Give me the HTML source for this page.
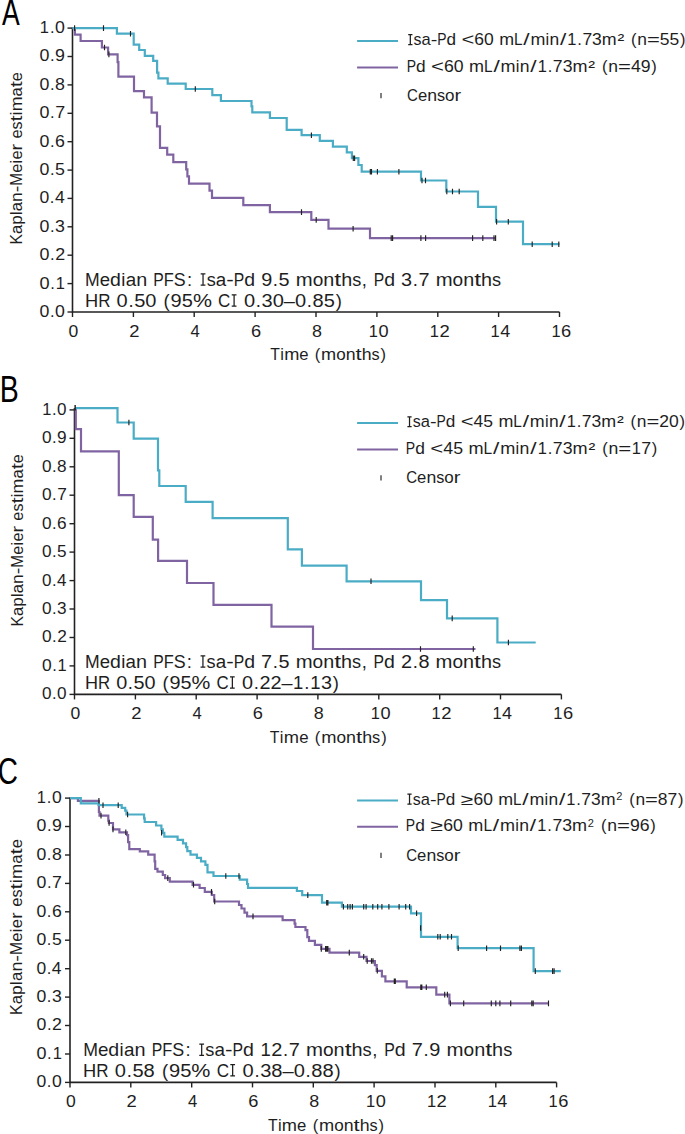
<!DOCTYPE html>
<html><head><meta charset="utf-8"><style>
html,body{margin:0;padding:0;background:#fff;}
body{width:685px;height:1134px;overflow:hidden;}
svg{display:block;font-family:"Liberation Sans", sans-serif;}
</style></head><body>
<svg width="685" height="1134" viewBox="0 0 685 1134" fill="#1e1e1e">
<path d="M72.5,27.5 V312.0 H559.5" fill="none" stroke="#222222" stroke-width="1.6"/>
<path d="M67.5,312.0 H72.5" stroke="#222222" stroke-width="1.4"/>
<g font-size="15.7"><text transform="translate(39.51,316.90) scale(1.130,1)">0</text><text transform="translate(49.91,316.90) scale(1.050,1)">.</text><text transform="translate(55.02,316.90) scale(1.130,1)">0</text></g>
<path d="M67.5,283.6 H72.5" stroke="#222222" stroke-width="1.4"/>
<g font-size="15.7"><text transform="translate(39.49,288.51) scale(1.157,1)">0</text><text transform="translate(50.19,288.51) scale(1.050,1)">.</text><text transform="translate(55.84,288.51) scale(1.050,1)">1</text></g>
<path d="M67.5,255.2 H72.5" stroke="#222222" stroke-width="1.4"/>
<g font-size="15.7"><text transform="translate(39.50,260.12) scale(1.140,1)">0</text><text transform="translate(50.01,260.12) scale(1.050,1)">.</text><text transform="translate(55.15,260.12) scale(1.140,1)">2</text></g>
<path d="M67.5,226.8 H72.5" stroke="#222222" stroke-width="1.4"/>
<g font-size="15.7"><text transform="translate(39.50,231.73) scale(1.134,1)">0</text><text transform="translate(49.95,231.73) scale(1.050,1)">.</text><text transform="translate(55.08,231.73) scale(1.134,1)">3</text></g>
<path d="M67.5,198.4 H72.5" stroke="#222222" stroke-width="1.4"/>
<g font-size="15.7"><text transform="translate(39.51,203.34) scale(1.122,1)">0</text><text transform="translate(49.82,203.34) scale(1.050,1)">.</text><text transform="translate(54.92,203.34) scale(1.122,1)">4</text></g>
<path d="M67.5,170.1 H72.5" stroke="#222222" stroke-width="1.4"/>
<g font-size="15.7"><text transform="translate(39.51,174.95) scale(1.133,1)">0</text><text transform="translate(49.94,174.95) scale(1.050,1)">.</text><text transform="translate(55.06,174.95) scale(1.133,1)">5</text></g>
<path d="M67.5,141.7 H72.5" stroke="#222222" stroke-width="1.4"/>
<g font-size="15.7"><text transform="translate(39.50,146.56) scale(1.134,1)">0</text><text transform="translate(49.95,146.56) scale(1.050,1)">.</text><text transform="translate(55.08,146.56) scale(1.134,1)">6</text></g>
<path d="M67.5,113.3 H72.5" stroke="#222222" stroke-width="1.4"/>
<g font-size="15.7"><text transform="translate(39.50,118.17) scale(1.140,1)">0</text><text transform="translate(50.01,118.17) scale(1.050,1)">.</text><text transform="translate(55.15,118.17) scale(1.140,1)">7</text></g>
<path d="M67.5,84.9 H72.5" stroke="#222222" stroke-width="1.4"/>
<g font-size="15.7"><text transform="translate(39.50,89.78) scale(1.134,1)">0</text><text transform="translate(49.95,89.78) scale(1.050,1)">.</text><text transform="translate(55.07,89.78) scale(1.134,1)">8</text></g>
<path d="M67.5,56.5 H72.5" stroke="#222222" stroke-width="1.4"/>
<g font-size="15.7"><text transform="translate(39.50,61.39) scale(1.137,1)">0</text><text transform="translate(49.98,61.39) scale(1.050,1)">.</text><text transform="translate(55.12,61.39) scale(1.137,1)">9</text></g>
<path d="M67.5,28.1 H72.5" stroke="#222222" stroke-width="1.4"/>
<g font-size="15.7"><text transform="translate(39.84,33.00) scale(1.050,1)">1</text><text transform="translate(49.90,33.00) scale(1.050,1)">.</text><text transform="translate(55.02,33.00) scale(1.131,1)">0</text></g>
<path d="M72.5,312.0 V317.0" stroke="#222222" stroke-width="1.4"/>
<g font-size="15.7"><text transform="translate(68.51,336.60) scale(1.119,1)">0</text></g>
<path d="M133.4,312.0 V317.0" stroke="#222222" stroke-width="1.4"/>
<g font-size="15.7"><text transform="translate(129.15,336.60) scale(1.174,1)">2</text></g>
<path d="M194.2,312.0 V317.0" stroke="#222222" stroke-width="1.4"/>
<g font-size="15.7"><text transform="translate(190.57,336.60) scale(1.062,1)">4</text></g>
<path d="M255.1,312.0 V317.0" stroke="#222222" stroke-width="1.4"/>
<g font-size="15.7"><text transform="translate(250.90,336.60) scale(1.160,1)">6</text></g>
<path d="M316.0,312.0 V317.0" stroke="#222222" stroke-width="1.4"/>
<g font-size="15.7"><text transform="translate(311.92,336.60) scale(1.140,1)">8</text></g>
<path d="M376.9,312.0 V317.0" stroke="#222222" stroke-width="1.4"/>
<g font-size="15.7"><text transform="translate(368.82,336.60) scale(1.050,1)">1</text><text transform="translate(378.46,336.60) scale(1.159,1)">0</text></g>
<path d="M437.8,312.0 V317.0" stroke="#222222" stroke-width="1.4"/>
<g font-size="15.7"><text transform="translate(429.69,336.60) scale(1.050,1)">1</text><text transform="translate(439.41,336.60) scale(1.176,1)">2</text></g>
<path d="M498.6,312.0 V317.0" stroke="#222222" stroke-width="1.4"/>
<g font-size="15.7"><text transform="translate(490.57,336.60) scale(1.050,1)">1</text><text transform="translate(500.15,336.60) scale(1.145,1)">4</text></g>
<path d="M559.5,312.0 V317.0" stroke="#222222" stroke-width="1.4"/>
<g font-size="15.7"><text transform="translate(551.44,336.60) scale(1.050,1)">1</text><text transform="translate(561.12,336.60) scale(1.166,1)">6</text></g>
<g font-size="15.7"><text transform="translate(270.25,360.30) scale(1.003,1)">T</text><text transform="translate(280.17,360.30) scale(1.050,1)">i</text><text transform="translate(284.14,360.30) scale(1.159,1)">m</text><text transform="translate(299.29,360.30) scale(1.062,1)">e</text><text transform="translate(314.84,360.30) scale(1.050,1)">(</text><text transform="translate(321.12,360.30) scale(1.159,1)">m</text><text transform="translate(336.28,360.30) scale(1.087,1)">o</text><text transform="translate(345.76,360.30) scale(1.129,1)">n</text><text transform="translate(355.62,360.30) scale(1.408,1)">t</text><text transform="translate(361.76,360.30) scale(1.129,1)">h</text><text transform="translate(371.62,360.30) scale(1.034,1)">s</text><text transform="translate(380.53,360.30) scale(1.050,1)">)</text></g>
<g font-size="15.7"><text transform="translate(22.30,244.49) rotate(-90) scale(1.000,1)">K</text><text transform="translate(22.30,234.01) rotate(-90) scale(1.051,1)">a</text><text transform="translate(22.30,224.83) rotate(-90) scale(1.090,1)">p</text><text transform="translate(22.30,215.05) rotate(-90) scale(1.050,1)">l</text><text transform="translate(22.30,211.13) rotate(-90) scale(1.051,1)">a</text><text transform="translate(22.30,201.95) rotate(-90) scale(1.107,1)">n</text><text transform="translate(22.30,192.28) rotate(-90) scale(1.259,1)">-</text><text transform="translate(22.30,185.70) rotate(-90) scale(0.985,1)">M</text><text transform="translate(22.30,172.82) rotate(-90) scale(1.041,1)">e</text><text transform="translate(22.30,163.47) rotate(-90) scale(1.050,1)">i</text><text transform="translate(22.30,159.54) rotate(-90) scale(1.041,1)">e</text><text transform="translate(22.30,150.45) rotate(-90) scale(1.247,1)">r</text><text transform="translate(22.30,138.57) rotate(-90) scale(1.041,1)">e</text><text transform="translate(22.30,129.48) rotate(-90) scale(1.014,1)">s</text><text transform="translate(22.30,121.52) rotate(-90) scale(1.380,1)">t</text><text transform="translate(22.30,115.24) rotate(-90) scale(1.050,1)">i</text><text transform="translate(22.30,111.31) rotate(-90) scale(1.136,1)">m</text><text transform="translate(22.30,96.46) rotate(-90) scale(1.051,1)">a</text><text transform="translate(22.30,87.28) rotate(-90) scale(1.380,1)">t</text><text transform="translate(22.30,81.26) rotate(-90) scale(1.041,1)">e</text></g>
<text transform="translate(1.95,25.20) scale(0.727,1)" font-size="36.5" fill="#000">A</text>
<path d="M357.1,40.9 H398" stroke="#4BACC6" stroke-width="2"/>
<path d="M357.1,67.6 H398" stroke="#8064A2" stroke-width="2"/>
<path d="M381,93.0 V98.2" stroke="#7a7a7a" stroke-width="1.9"/>
<g font-size="15.7"><path d="M408.20,34.60H412.44M410.32,34.00V45.10M408.20,44.50H412.44" stroke="#1e1e1e" stroke-width="1.25" fill="none"/><text transform="translate(413.54,45.10) scale(1.016,1)">s</text><text transform="translate(421.52,45.10) scale(1.054,1)">a</text><text transform="translate(430.72,45.10) scale(1.263,1)">-</text><text transform="translate(437.33,45.10) scale(0.882,1)">P</text><text transform="translate(446.56,45.10) scale(1.093,1)">d</text><text transform="translate(461.48,45.10) scale(1.399,1)">&lt;</text><text transform="translate(474.31,45.10) scale(1.115,1)">6</text><text transform="translate(484.05,45.10) scale(1.115,1)">0</text><text transform="translate(499.16,45.10) scale(1.139,1)">m</text><text transform="translate(514.06,45.10) scale(0.977,1)">L</text><text transform="translate(523.35,45.10) scale(1.450,1)">/</text><text transform="translate(530.44,45.10) scale(1.139,1)">m</text><text transform="translate(545.60,45.10) scale(1.050,1)">i</text><text transform="translate(549.54,45.10) scale(1.110,1)">n</text><text transform="translate(559.99,45.10) scale(1.450,1)">/</text><text transform="translate(567.36,45.10) scale(1.050,1)">1</text><text transform="translate(577.31,45.10) scale(1.050,1)">.</text><text transform="translate(582.38,45.10) scale(1.115,1)">7</text><text transform="translate(592.12,45.10) scale(1.115,1)">3</text><text transform="translate(601.85,45.10) scale(1.139,1)">m</text><text transform="translate(617.46,45.10) scale(1.300,1)">²</text><text transform="translate(631.09,45.10) scale(1.050,1)">(</text><text transform="translate(637.31,45.10) scale(1.110,1)">n</text><text transform="translate(647.00,45.10) scale(1.399,1)">=</text><text transform="translate(659.83,45.10) scale(1.115,1)">5</text><text transform="translate(669.57,45.10) scale(1.115,1)">5</text><text transform="translate(680.03,45.10) scale(1.050,1)">)</text></g>
<g font-size="15.7"><text transform="translate(406.66,72.20) scale(0.889,1)">P</text><text transform="translate(415.96,72.20) scale(1.101,1)">d</text><text transform="translate(431.01,72.20) scale(1.411,1)">&lt;</text><text transform="translate(443.94,72.20) scale(1.124,1)">6</text><text transform="translate(453.75,72.20) scale(1.124,1)">0</text><text transform="translate(468.99,72.20) scale(1.148,1)">m</text><text transform="translate(484.00,72.20) scale(0.985,1)">L</text><text transform="translate(493.40,72.20) scale(1.450,1)">/</text><text transform="translate(500.52,72.20) scale(1.148,1)">m</text><text transform="translate(515.82,72.20) scale(1.050,1)">i</text><text transform="translate(519.77,72.20) scale(1.119,1)">n</text><text transform="translate(530.33,72.20) scale(1.450,1)">/</text><text transform="translate(537.77,72.20) scale(1.050,1)">1</text><text transform="translate(547.78,72.20) scale(1.050,1)">.</text><text transform="translate(552.87,72.20) scale(1.124,1)">7</text><text transform="translate(562.69,72.20) scale(1.124,1)">3</text><text transform="translate(572.50,72.20) scale(1.148,1)">m</text><text transform="translate(588.26,72.20) scale(1.300,1)">²</text><text transform="translate(602.00,72.20) scale(1.050,1)">(</text><text transform="translate(608.25,72.20) scale(1.119,1)">n</text><text transform="translate(618.01,72.20) scale(1.411,1)">=</text><text transform="translate(630.95,72.20) scale(1.124,1)">4</text><text transform="translate(640.76,72.20) scale(1.124,1)">9</text><text transform="translate(651.33,72.20) scale(1.050,1)">)</text></g>
<g font-size="15.7"><text transform="translate(407.03,101.00) scale(0.960,1)">C</text><text transform="translate(417.92,101.00) scale(1.060,1)">e</text><text transform="translate(427.18,101.00) scale(1.127,1)">n</text><text transform="translate(437.02,101.00) scale(1.032,1)">s</text><text transform="translate(445.12,101.00) scale(1.084,1)">o</text><text transform="translate(454.59,101.00) scale(1.269,1)">r</text></g>
<g font-size="17.6"><text transform="translate(85.06,285.60) scale(1.001,1)">M</text><text transform="translate(99.73,285.60) scale(1.058,1)">e</text><text transform="translate(110.09,285.60) scale(1.108,1)">d</text><text transform="translate(121.26,285.60) scale(1.050,1)">i</text><text transform="translate(125.70,285.60) scale(1.069,1)">a</text><text transform="translate(136.16,285.60) scale(1.125,1)">n</text><text transform="translate(153.29,285.60) scale(0.894,1)">P</text><text transform="translate(163.78,285.60) scale(0.931,1)">F</text><text transform="translate(173.79,285.60) scale(1.015,1)">S</text><text transform="translate(186.92,285.60) scale(1.050,1)">:</text><path d="M200.67,273.79H205.42M203.04,273.19V285.60M200.67,285.00H205.42" stroke="#1e1e1e" stroke-width="1.25" fill="none"/><text transform="translate(206.71,285.60) scale(1.030,1)">s</text><text transform="translate(215.77,285.60) scale(1.069,1)">a</text><text transform="translate(226.23,285.60) scale(1.280,1)">-</text><text transform="translate(233.73,285.60) scale(0.894,1)">P</text><text transform="translate(244.23,285.60) scale(1.108,1)">d</text><text transform="translate(261.18,285.60) scale(1.130,1)">9</text><text transform="translate(272.84,285.60) scale(1.050,1)">.</text><text transform="translate(278.58,285.60) scale(1.130,1)">5</text><text transform="translate(295.76,285.60) scale(1.154,1)">m</text><text transform="translate(312.68,285.60) scale(1.082,1)">o</text><text transform="translate(323.28,285.60) scale(1.125,1)">n</text><text transform="translate(334.29,285.60) scale(1.402,1)">t</text><text transform="translate(341.14,285.60) scale(1.125,1)">h</text><text transform="translate(352.15,285.60) scale(1.030,1)">s</text><text transform="translate(361.82,285.60) scale(1.050,1)">,</text><text transform="translate(373.67,285.60) scale(0.894,1)">P</text><text transform="translate(384.16,285.60) scale(1.108,1)">d</text><text transform="translate(401.12,285.60) scale(1.130,1)">3</text><text transform="translate(412.78,285.60) scale(1.050,1)">.</text><text transform="translate(418.51,285.60) scale(1.130,1)">7</text><text transform="translate(435.69,285.60) scale(1.154,1)">m</text><text transform="translate(452.62,285.60) scale(1.082,1)">o</text><text transform="translate(463.21,285.60) scale(1.125,1)">n</text><text transform="translate(474.22,285.60) scale(1.402,1)">t</text><text transform="translate(481.08,285.60) scale(1.125,1)">h</text><text transform="translate(492.09,285.60) scale(1.030,1)">s</text></g>
<g font-size="17.6"><text transform="translate(85.00,306.80) scale(1.038,1)">H</text><text transform="translate(98.19,306.80) scale(0.964,1)">R</text><text transform="translate(116.62,306.80) scale(1.139,1)">0</text><text transform="translate(128.39,306.80) scale(1.050,1)">.</text><text transform="translate(134.15,306.80) scale(1.139,1)">5</text><text transform="translate(145.30,306.80) scale(1.139,1)">0</text><text transform="translate(163.53,306.80) scale(1.050,1)">(</text><text transform="translate(170.59,306.80) scale(1.139,1)">9</text><text transform="translate(181.74,306.80) scale(1.139,1)">5</text><text transform="translate(192.90,306.80) scale(1.218,1)">%</text><text transform="translate(218.12,306.80) scale(0.966,1)">C</text><path d="M231.72,294.99H236.47M234.10,294.39V306.80M231.72,306.20H236.47" stroke="#1e1e1e" stroke-width="1.25" fill="none"/><text transform="translate(243.96,306.80) scale(1.139,1)">0</text><text transform="translate(255.73,306.80) scale(1.050,1)">.</text><text transform="translate(261.49,306.80) scale(1.139,1)">3</text><text transform="translate(272.64,306.80) scale(1.139,1)">0</text><text transform="translate(283.79,306.80) scale(1.139,1)">–</text><text transform="translate(294.95,306.80) scale(1.139,1)">0</text><text transform="translate(306.72,306.80) scale(1.050,1)">.</text><text transform="translate(312.48,306.80) scale(1.139,1)">8</text><text transform="translate(323.63,306.80) scale(1.139,1)">5</text><text transform="translate(335.69,306.80) scale(1.050,1)">)</text></g>
<path d="M72.5,28.1 H74.9 V34.7 H80.6 V41 H101.9 V47.5 H108.1 V54.4 H117.6 V62.1 H118.4 V76.7 H134 V91.2 H144 V97.4 H151.6 V112.6 H157 V126.3 H160 V147.8 H167.2 V154.6 H173.3 V162.1 H186.2 V169.3 H187.4 V176.4 H189 V183.6 H209.5 V190.7 H212 V197.9 H243.3 V205.1 H269.9 V212.1 H311.3 V219.9 H328.5 V228.7 H370 V238.1 H495.5" fill="none" stroke="#8064A2" stroke-width="2.2" stroke-linejoin="miter" stroke-linecap="butt"/>
<path d="M72.5,28.1 H116.9 V33.7 H133.7 V44.6 H139.2 V50 H144.8 V55.9 H153.2 V60.9 H157.1 V72.6 H158.4 V78.4 H167.7 V83.6 H185.7 V89 H212.3 V95.1 H220.9 V101 H251.5 V106.4 H252.3 V112.3 H269.9 V118 H286.7 V129.9 H301.6 V135.2 H319.8 V140.8 H332.9 V146.6 H346.8 V152.3 H351.9 V158.2 H358.4 V165 H361.7 V171.7 H421 V180.5 H446.3 V191.5 H478 V206.8 H496 V221.7 H523 V244.2 H559.5" fill="none" stroke="#4BACC6" stroke-width="2.2" stroke-linejoin="miter" stroke-linecap="butt"/>
<path d="M104.5,44.7V50.3 M108.9,51.6V57.2 M301.5,209.3V214.9 M316.2,217.1V222.7 M353.1,225.9V231.5 M391.2,235.3V240.9 M392.6,235.3V240.9 M420.9,235.3V240.9 M425.6,235.3V240.9 M472.6,235.3V240.9 M482.8,235.3V240.9 M494.0,235.3V240.9 M495.6,235.3V240.9" stroke="#222" stroke-width="1.15"/>
<path d="M74.6,25.3V30.9 M103.5,25.3V30.9 M130.5,30.9V36.5 M195.3,86.2V91.8 M311.4,132.4V138.0 M353.3,155.4V161.0 M354.6,155.4V161.0 M370.3,168.9V174.5 M371.5,168.9V174.5 M377.4,168.9V174.5 M398.9,168.9V174.5 M422.0,177.7V183.3 M425.5,177.7V183.3 M446.8,188.7V194.3 M452.5,188.7V194.3 M459.2,188.7V194.3 M496.6,218.9V224.5 M508.3,218.9V224.5 M532.2,241.4V247.0 M552.2,241.4V247.0 M558.8,241.4V247.0" stroke="#222" stroke-width="1.15"/>
<path d="M74.5,408.0 V694.4 H561.4" fill="none" stroke="#222222" stroke-width="1.6"/>
<path d="M69.5,694.4 H74.5" stroke="#222222" stroke-width="1.4"/>
<g font-size="15.7"><text transform="translate(42.03,699.30) scale(1.093,1)">0</text><text transform="translate(52.01,699.30) scale(1.050,1)">.</text><text transform="translate(57.03,699.30) scale(1.093,1)">0</text></g>
<path d="M69.5,665.9 H74.5" stroke="#222222" stroke-width="1.4"/>
<g font-size="15.7"><text transform="translate(42.02,670.85) scale(1.111,1)">0</text><text transform="translate(52.20,670.85) scale(1.050,1)">.</text><text transform="translate(57.54,670.85) scale(1.050,1)">1</text></g>
<path d="M69.5,637.5 H74.5" stroke="#222222" stroke-width="1.4"/>
<g font-size="15.7"><text transform="translate(42.02,642.40) scale(1.102,1)">0</text><text transform="translate(52.11,642.40) scale(1.050,1)">.</text><text transform="translate(57.15,642.40) scale(1.102,1)">2</text></g>
<path d="M69.5,609.0 H74.5" stroke="#222222" stroke-width="1.4"/>
<g font-size="15.7"><text transform="translate(42.03,613.95) scale(1.097,1)">0</text><text transform="translate(52.05,613.95) scale(1.050,1)">.</text><text transform="translate(57.08,613.95) scale(1.097,1)">3</text></g>
<path d="M69.5,580.6 H74.5" stroke="#222222" stroke-width="1.4"/>
<g font-size="15.7"><text transform="translate(42.03,585.50) scale(1.085,1)">0</text><text transform="translate(51.93,585.50) scale(1.050,1)">.</text><text transform="translate(56.93,585.50) scale(1.085,1)">4</text></g>
<path d="M69.5,552.1 H74.5" stroke="#222222" stroke-width="1.4"/>
<g font-size="15.7"><text transform="translate(42.03,557.05) scale(1.095,1)">0</text><text transform="translate(52.04,557.05) scale(1.050,1)">.</text><text transform="translate(57.06,557.05) scale(1.095,1)">5</text></g>
<path d="M69.5,523.7 H74.5" stroke="#222222" stroke-width="1.4"/>
<g font-size="15.7"><text transform="translate(42.03,528.60) scale(1.097,1)">0</text><text transform="translate(52.05,528.60) scale(1.050,1)">.</text><text transform="translate(57.08,528.60) scale(1.097,1)">6</text></g>
<path d="M69.5,495.2 H74.5" stroke="#222222" stroke-width="1.4"/>
<g font-size="15.7"><text transform="translate(42.02,500.15) scale(1.102,1)">0</text><text transform="translate(52.11,500.15) scale(1.050,1)">.</text><text transform="translate(57.15,500.15) scale(1.102,1)">7</text></g>
<path d="M69.5,466.8 H74.5" stroke="#222222" stroke-width="1.4"/>
<g font-size="15.7"><text transform="translate(42.03,471.70) scale(1.096,1)">0</text><text transform="translate(52.05,471.70) scale(1.050,1)">.</text><text transform="translate(57.08,471.70) scale(1.096,1)">8</text></g>
<path d="M69.5,438.3 H74.5" stroke="#222222" stroke-width="1.4"/>
<g font-size="15.7"><text transform="translate(42.03,443.25) scale(1.099,1)">0</text><text transform="translate(52.08,443.25) scale(1.050,1)">.</text><text transform="translate(57.12,443.25) scale(1.099,1)">9</text></g>
<path d="M69.5,409.9 H74.5" stroke="#222222" stroke-width="1.4"/>
<g font-size="15.7"><text transform="translate(42.34,414.80) scale(1.050,1)">1</text><text transform="translate(52.09,414.80) scale(1.050,1)">.</text><text transform="translate(57.09,414.80) scale(1.085,1)">0</text></g>
<path d="M74.5,694.4 V699.4" stroke="#222222" stroke-width="1.4"/>
<g font-size="15.7"><text transform="translate(70.51,718.80) scale(1.119,1)">0</text></g>
<path d="M135.4,694.4 V699.4" stroke="#222222" stroke-width="1.4"/>
<g font-size="15.7"><text transform="translate(131.14,718.80) scale(1.174,1)">2</text></g>
<path d="M196.2,694.4 V699.4" stroke="#222222" stroke-width="1.4"/>
<g font-size="15.7"><text transform="translate(192.54,718.80) scale(1.062,1)">4</text></g>
<path d="M257.1,694.4 V699.4" stroke="#222222" stroke-width="1.4"/>
<g font-size="15.7"><text transform="translate(252.86,718.80) scale(1.160,1)">6</text></g>
<path d="M317.9,694.4 V699.4" stroke="#222222" stroke-width="1.4"/>
<g font-size="15.7"><text transform="translate(313.87,718.80) scale(1.140,1)">8</text></g>
<path d="M378.8,694.4 V699.4" stroke="#222222" stroke-width="1.4"/>
<g font-size="15.7"><text transform="translate(370.76,718.80) scale(1.050,1)">1</text><text transform="translate(380.40,718.80) scale(1.159,1)">0</text></g>
<path d="M439.7,694.4 V699.4" stroke="#222222" stroke-width="1.4"/>
<g font-size="15.7"><text transform="translate(431.62,718.80) scale(1.050,1)">1</text><text transform="translate(441.34,718.80) scale(1.176,1)">2</text></g>
<path d="M500.5,694.4 V699.4" stroke="#222222" stroke-width="1.4"/>
<g font-size="15.7"><text transform="translate(492.48,718.80) scale(1.050,1)">1</text><text transform="translate(502.07,718.80) scale(1.145,1)">4</text></g>
<path d="M561.4,694.4 V699.4" stroke="#222222" stroke-width="1.4"/>
<g font-size="15.7"><text transform="translate(553.34,718.80) scale(1.050,1)">1</text><text transform="translate(563.02,718.80) scale(1.166,1)">6</text></g>
<g font-size="15.7"><text transform="translate(269.84,742.80) scale(1.012,1)">T</text><text transform="translate(279.87,742.80) scale(1.050,1)">i</text><text transform="translate(283.86,742.80) scale(1.169,1)">m</text><text transform="translate(299.15,742.80) scale(1.072,1)">e</text><text transform="translate(314.86,742.80) scale(1.050,1)">(</text><text transform="translate(321.17,742.80) scale(1.169,1)">m</text><text transform="translate(336.46,742.80) scale(1.096,1)">o</text><text transform="translate(346.03,742.80) scale(1.139,1)">n</text><text transform="translate(355.98,742.80) scale(1.420,1)">t</text><text transform="translate(362.17,742.80) scale(1.139,1)">h</text><text transform="translate(372.12,742.80) scale(1.043,1)">s</text><text transform="translate(381.13,742.80) scale(1.050,1)">)</text></g>
<g font-size="15.7"><text transform="translate(22.90,626.49) rotate(-90) scale(1.000,1)">K</text><text transform="translate(22.90,616.02) rotate(-90) scale(1.051,1)">a</text><text transform="translate(22.90,606.84) rotate(-90) scale(1.089,1)">p</text><text transform="translate(22.90,597.07) rotate(-90) scale(1.050,1)">l</text><text transform="translate(22.90,593.15) rotate(-90) scale(1.051,1)">a</text><text transform="translate(22.90,583.97) rotate(-90) scale(1.106,1)">n</text><text transform="translate(22.90,574.31) rotate(-90) scale(1.259,1)">-</text><text transform="translate(22.90,567.73) rotate(-90) scale(0.984,1)">M</text><text transform="translate(22.90,554.86) rotate(-90) scale(1.040,1)">e</text><text transform="translate(22.90,545.52) rotate(-90) scale(1.050,1)">i</text><text transform="translate(22.90,541.59) rotate(-90) scale(1.040,1)">e</text><text transform="translate(22.90,532.51) rotate(-90) scale(1.246,1)">r</text><text transform="translate(22.90,520.63) rotate(-90) scale(1.040,1)">e</text><text transform="translate(22.90,511.54) rotate(-90) scale(1.013,1)">s</text><text transform="translate(22.90,503.59) rotate(-90) scale(1.379,1)">t</text><text transform="translate(22.90,497.32) rotate(-90) scale(1.050,1)">i</text><text transform="translate(22.90,493.39) rotate(-90) scale(1.135,1)">m</text><text transform="translate(22.90,478.55) rotate(-90) scale(1.051,1)">a</text><text transform="translate(22.90,469.37) rotate(-90) scale(1.379,1)">t</text><text transform="translate(22.90,463.36) rotate(-90) scale(1.040,1)">e</text></g>
<text transform="translate(-0.14,401.70) scale(0.782,1)" font-size="36.5" fill="#000">B</text>
<path d="M357.1,423.09999999999997 H398" stroke="#4BACC6" stroke-width="2"/>
<path d="M357.1,449.4 H398" stroke="#8064A2" stroke-width="2"/>
<path d="M381,475.3 V480.5" stroke="#7a7a7a" stroke-width="1.9"/>
<g font-size="15.7"><path d="M407.40,416.80H411.64M409.52,416.20V427.30M407.40,426.70H411.64" stroke="#1e1e1e" stroke-width="1.25" fill="none"/><text transform="translate(412.75,427.30) scale(1.017,1)">s</text><text transform="translate(420.73,427.30) scale(1.055,1)">a</text><text transform="translate(429.95,427.30) scale(1.264,1)">-</text><text transform="translate(436.56,427.30) scale(0.883,1)">P</text><text transform="translate(445.80,427.30) scale(1.094,1)">d</text><text transform="translate(460.74,427.30) scale(1.401,1)">&lt;</text><text transform="translate(473.58,427.30) scale(1.116,1)">4</text><text transform="translate(483.33,427.30) scale(1.116,1)">5</text><text transform="translate(498.46,427.30) scale(1.140,1)">m</text><text transform="translate(513.37,427.30) scale(0.978,1)">L</text><text transform="translate(522.68,427.30) scale(1.450,1)">/</text><text transform="translate(529.77,427.30) scale(1.140,1)">m</text><text transform="translate(544.95,427.30) scale(1.050,1)">i</text><text transform="translate(548.89,427.30) scale(1.111,1)">n</text><text transform="translate(559.36,427.30) scale(1.450,1)">/</text><text transform="translate(566.74,427.30) scale(1.050,1)">1</text><text transform="translate(576.69,427.30) scale(1.050,1)">.</text><text transform="translate(581.77,427.30) scale(1.116,1)">7</text><text transform="translate(591.52,427.30) scale(1.116,1)">3</text><text transform="translate(601.26,427.30) scale(1.140,1)">m</text><text transform="translate(616.89,427.30) scale(1.300,1)">²</text><text transform="translate(630.54,427.30) scale(1.050,1)">(</text><text transform="translate(636.76,427.30) scale(1.111,1)">n</text><text transform="translate(646.46,427.30) scale(1.401,1)">=</text><text transform="translate(659.31,427.30) scale(1.116,1)">2</text><text transform="translate(669.05,427.30) scale(1.116,1)">0</text><text transform="translate(679.53,427.30) scale(1.050,1)">)</text></g>
<g font-size="15.7"><text transform="translate(405.85,454.00) scale(0.894,1)">P</text><text transform="translate(415.21,454.00) scale(1.107,1)">d</text><text transform="translate(430.33,454.00) scale(1.418,1)">&lt;</text><text transform="translate(443.33,454.00) scale(1.130,1)">4</text><text transform="translate(453.19,454.00) scale(1.130,1)">5</text><text transform="translate(468.51,454.00) scale(1.154,1)">m</text><text transform="translate(483.61,454.00) scale(0.990,1)">L</text><text transform="translate(493.07,454.00) scale(1.450,1)">/</text><text transform="translate(500.21,454.00) scale(1.154,1)">m</text><text transform="translate(515.60,454.00) scale(1.050,1)">i</text><text transform="translate(519.56,454.00) scale(1.125,1)">n</text><text transform="translate(530.19,454.00) scale(1.450,1)">/</text><text transform="translate(537.68,454.00) scale(1.050,1)">1</text><text transform="translate(547.73,454.00) scale(1.050,1)">.</text><text transform="translate(552.84,454.00) scale(1.130,1)">7</text><text transform="translate(562.71,454.00) scale(1.130,1)">3</text><text transform="translate(572.57,454.00) scale(1.154,1)">m</text><text transform="translate(588.43,454.00) scale(1.300,1)">²</text><text transform="translate(602.24,454.00) scale(1.050,1)">(</text><text transform="translate(608.50,454.00) scale(1.125,1)">n</text><text transform="translate(618.32,454.00) scale(1.418,1)">=</text><text transform="translate(631.67,454.00) scale(1.050,1)">1</text><text transform="translate(641.19,454.00) scale(1.130,1)">7</text><text transform="translate(651.83,454.00) scale(1.050,1)">)</text></g>
<g font-size="15.7"><text transform="translate(406.23,483.30) scale(0.960,1)">C</text><text transform="translate(417.12,483.30) scale(1.060,1)">e</text><text transform="translate(426.38,483.30) scale(1.127,1)">n</text><text transform="translate(436.22,483.30) scale(1.032,1)">s</text><text transform="translate(444.32,483.30) scale(1.084,1)">o</text><text transform="translate(453.79,483.30) scale(1.269,1)">r</text></g>
<g font-size="17.6"><text transform="translate(84.96,667.60) scale(1.001,1)">M</text><text transform="translate(99.63,667.60) scale(1.058,1)">e</text><text transform="translate(109.99,667.60) scale(1.108,1)">d</text><text transform="translate(121.16,667.60) scale(1.050,1)">i</text><text transform="translate(125.60,667.60) scale(1.069,1)">a</text><text transform="translate(136.06,667.60) scale(1.125,1)">n</text><text transform="translate(153.19,667.60) scale(0.894,1)">P</text><text transform="translate(163.68,667.60) scale(0.931,1)">F</text><text transform="translate(173.69,667.60) scale(1.015,1)">S</text><text transform="translate(186.82,667.60) scale(1.050,1)">:</text><path d="M200.57,655.79H205.32M202.94,655.19V667.60M200.57,667.00H205.32" stroke="#1e1e1e" stroke-width="1.25" fill="none"/><text transform="translate(206.61,667.60) scale(1.030,1)">s</text><text transform="translate(215.67,667.60) scale(1.069,1)">a</text><text transform="translate(226.13,667.60) scale(1.280,1)">-</text><text transform="translate(233.63,667.60) scale(0.894,1)">P</text><text transform="translate(244.13,667.60) scale(1.108,1)">d</text><text transform="translate(261.08,667.60) scale(1.130,1)">7</text><text transform="translate(272.74,667.60) scale(1.050,1)">.</text><text transform="translate(278.48,667.60) scale(1.130,1)">5</text><text transform="translate(295.66,667.60) scale(1.154,1)">m</text><text transform="translate(312.58,667.60) scale(1.082,1)">o</text><text transform="translate(323.18,667.60) scale(1.125,1)">n</text><text transform="translate(334.19,667.60) scale(1.402,1)">t</text><text transform="translate(341.04,667.60) scale(1.125,1)">h</text><text transform="translate(352.05,667.60) scale(1.030,1)">s</text><text transform="translate(361.72,667.60) scale(1.050,1)">,</text><text transform="translate(373.57,667.60) scale(0.894,1)">P</text><text transform="translate(384.06,667.60) scale(1.108,1)">d</text><text transform="translate(401.02,667.60) scale(1.130,1)">2</text><text transform="translate(412.68,667.60) scale(1.050,1)">.</text><text transform="translate(418.41,667.60) scale(1.130,1)">8</text><text transform="translate(435.59,667.60) scale(1.154,1)">m</text><text transform="translate(452.52,667.60) scale(1.082,1)">o</text><text transform="translate(463.11,667.60) scale(1.125,1)">n</text><text transform="translate(474.12,667.60) scale(1.402,1)">t</text><text transform="translate(480.98,667.60) scale(1.125,1)">h</text><text transform="translate(491.99,667.60) scale(1.030,1)">s</text></g>
<g font-size="17.6"><text transform="translate(84.92,688.80) scale(1.026,1)">H</text><text transform="translate(97.96,688.80) scale(0.954,1)">R</text><text transform="translate(116.18,688.80) scale(1.127,1)">0</text><text transform="translate(127.80,688.80) scale(1.050,1)">.</text><text transform="translate(133.52,688.80) scale(1.127,1)">5</text><text transform="translate(144.55,688.80) scale(1.127,1)">0</text><text transform="translate(162.54,688.80) scale(1.050,1)">(</text><text transform="translate(169.56,688.80) scale(1.127,1)">9</text><text transform="translate(180.59,688.80) scale(1.127,1)">5</text><text transform="translate(191.61,688.80) scale(1.204,1)">%</text><text transform="translate(216.56,688.80) scale(0.956,1)">C</text><path d="M229.98,676.99H234.73M232.36,676.39V688.80M229.98,688.20H234.73" stroke="#1e1e1e" stroke-width="1.25" fill="none"/><text transform="translate(242.11,688.80) scale(1.127,1)">0</text><text transform="translate(253.72,688.80) scale(1.050,1)">.</text><text transform="translate(259.45,688.80) scale(1.127,1)">2</text><text transform="translate(270.48,688.80) scale(1.127,1)">2</text><text transform="translate(281.50,688.80) scale(1.127,1)">–</text><text transform="translate(292.91,688.80) scale(1.050,1)">1</text><text transform="translate(304.15,688.80) scale(1.050,1)">.</text><text transform="translate(310.25,688.80) scale(1.050,1)">1</text><text transform="translate(320.90,688.80) scale(1.127,1)">3</text><text transform="translate(332.79,688.80) scale(1.050,1)">)</text></g>
<path d="M75.8,408.1 V429.1 H81 V451.4 H118.8 V495.2 H133.7 V516.8 H152.8 V539.6 H158.1 V560.9 H187 V583 H213.5 V604.9 H271.5 V626.7 H313 V649 H475.5" fill="none" stroke="#8064A2" stroke-width="2.2" stroke-linejoin="miter" stroke-linecap="butt"/>
<path d="M75,408.2 H117.5 V422.5 H133.7 V438.6 H158 V470.4 H159.3 V486 H185.7 V501.8 H212.6 V518.1 H287.8 V549.4 H301.9 V565.7 H346.6 V581.3 H421 V600.1 H447 V618.4 H497.4 V642.5 H535.7" fill="none" stroke="#4BACC6" stroke-width="2.2" stroke-linejoin="miter" stroke-linecap="butt"/>
<path d="M420.5,646.2V651.8 M473.3,646.2V651.8" stroke="#222" stroke-width="1.15"/>
<path d="M75.0,404.9V410.5 M75.3,404.9V410.5 M128.9,419.7V425.3 M371.0,578.5V584.1 M452.2,615.6V621.2 M508.4,639.7V645.3" stroke="#222" stroke-width="1.15"/>
<path d="M70.0,797.5 V1082.4 H556.6" fill="none" stroke="#222222" stroke-width="1.6"/>
<path d="M65.0,1082.4 H70.0" stroke="#222222" stroke-width="1.4"/>
<g font-size="15.7"><text transform="translate(36.51,1087.30) scale(1.121,1)">0</text><text transform="translate(46.81,1087.30) scale(1.050,1)">.</text><text transform="translate(51.90,1087.30) scale(1.121,1)">0</text></g>
<path d="M65.0,1054.0 H70.0" stroke="#222222" stroke-width="1.4"/>
<g font-size="15.7"><text transform="translate(36.50,1058.87) scale(1.145,1)">0</text><text transform="translate(47.07,1058.87) scale(1.050,1)">.</text><text transform="translate(52.64,1058.87) scale(1.050,1)">1</text></g>
<path d="M65.0,1025.5 H70.0" stroke="#222222" stroke-width="1.4"/>
<g font-size="15.7"><text transform="translate(36.51,1030.44) scale(1.130,1)">0</text><text transform="translate(46.91,1030.44) scale(1.050,1)">.</text><text transform="translate(52.02,1030.44) scale(1.130,1)">2</text></g>
<path d="M65.0,997.1 H70.0" stroke="#222222" stroke-width="1.4"/>
<g font-size="15.7"><text transform="translate(36.51,1002.01) scale(1.125,1)">0</text><text transform="translate(46.85,1002.01) scale(1.050,1)">.</text><text transform="translate(51.95,1002.01) scale(1.125,1)">3</text></g>
<path d="M65.0,968.7 H70.0" stroke="#222222" stroke-width="1.4"/>
<g font-size="15.7"><text transform="translate(36.52,973.58) scale(1.113,1)">0</text><text transform="translate(46.72,973.58) scale(1.050,1)">.</text><text transform="translate(51.79,973.58) scale(1.113,1)">4</text></g>
<path d="M65.0,940.2 H70.0" stroke="#222222" stroke-width="1.4"/>
<g font-size="15.7"><text transform="translate(36.51,945.15) scale(1.123,1)">0</text><text transform="translate(46.84,945.15) scale(1.050,1)">.</text><text transform="translate(51.93,945.15) scale(1.123,1)">5</text></g>
<path d="M65.0,911.8 H70.0" stroke="#222222" stroke-width="1.4"/>
<g font-size="15.7"><text transform="translate(36.51,916.72) scale(1.125,1)">0</text><text transform="translate(46.85,916.72) scale(1.050,1)">.</text><text transform="translate(51.95,916.72) scale(1.125,1)">6</text></g>
<path d="M65.0,883.4 H70.0" stroke="#222222" stroke-width="1.4"/>
<g font-size="15.7"><text transform="translate(36.51,888.29) scale(1.130,1)">0</text><text transform="translate(46.91,888.29) scale(1.050,1)">.</text><text transform="translate(52.02,888.29) scale(1.130,1)">7</text></g>
<path d="M65.0,855.0 H70.0" stroke="#222222" stroke-width="1.4"/>
<g font-size="15.7"><text transform="translate(36.51,859.86) scale(1.125,1)">0</text><text transform="translate(46.85,859.86) scale(1.050,1)">.</text><text transform="translate(51.95,859.86) scale(1.125,1)">8</text></g>
<path d="M65.0,826.5 H70.0" stroke="#222222" stroke-width="1.4"/>
<g font-size="15.7"><text transform="translate(36.51,831.43) scale(1.128,1)">0</text><text transform="translate(46.88,831.43) scale(1.050,1)">.</text><text transform="translate(51.99,831.43) scale(1.128,1)">9</text></g>
<path d="M65.0,798.1 H70.0" stroke="#222222" stroke-width="1.4"/>
<g font-size="15.7"><text transform="translate(36.84,803.00) scale(1.050,1)">1</text><text transform="translate(46.82,803.00) scale(1.050,1)">.</text><text transform="translate(51.91,803.00) scale(1.120,1)">0</text></g>
<path d="M70.0,1082.4 V1087.4" stroke="#222222" stroke-width="1.4"/>
<g font-size="15.7"><text transform="translate(66.01,1107.00) scale(1.119,1)">0</text></g>
<path d="M130.8,1082.4 V1087.4" stroke="#222222" stroke-width="1.4"/>
<g font-size="15.7"><text transform="translate(126.60,1107.00) scale(1.174,1)">2</text></g>
<path d="M191.7,1082.4 V1087.4" stroke="#222222" stroke-width="1.4"/>
<g font-size="15.7"><text transform="translate(187.97,1107.00) scale(1.062,1)">4</text></g>
<path d="M252.5,1082.4 V1087.4" stroke="#222222" stroke-width="1.4"/>
<g font-size="15.7"><text transform="translate(248.25,1107.00) scale(1.160,1)">6</text></g>
<path d="M313.3,1082.4 V1087.4" stroke="#222222" stroke-width="1.4"/>
<g font-size="15.7"><text transform="translate(309.22,1107.00) scale(1.140,1)">8</text></g>
<path d="M374.1,1082.4 V1087.4" stroke="#222222" stroke-width="1.4"/>
<g font-size="15.7"><text transform="translate(366.07,1107.00) scale(1.050,1)">1</text><text transform="translate(375.71,1107.00) scale(1.159,1)">0</text></g>
<path d="M435.0,1082.4 V1087.4" stroke="#222222" stroke-width="1.4"/>
<g font-size="15.7"><text transform="translate(426.89,1107.00) scale(1.050,1)">1</text><text transform="translate(436.61,1107.00) scale(1.176,1)">2</text></g>
<path d="M495.8,1082.4 V1087.4" stroke="#222222" stroke-width="1.4"/>
<g font-size="15.7"><text transform="translate(487.72,1107.00) scale(1.050,1)">1</text><text transform="translate(497.30,1107.00) scale(1.145,1)">4</text></g>
<path d="M556.6,1082.4 V1087.4" stroke="#222222" stroke-width="1.4"/>
<g font-size="15.7"><text transform="translate(548.54,1107.00) scale(1.050,1)">1</text><text transform="translate(558.22,1107.00) scale(1.166,1)">6</text></g>
<g font-size="15.7"><text transform="translate(267.95,1130.90) scale(1.005,1)">T</text><text transform="translate(277.90,1130.90) scale(1.050,1)">i</text><text transform="translate(281.87,1130.90) scale(1.162,1)">m</text><text transform="translate(297.07,1130.90) scale(1.065,1)">e</text><text transform="translate(312.66,1130.90) scale(1.050,1)">(</text><text transform="translate(318.96,1130.90) scale(1.162,1)">m</text><text transform="translate(334.15,1130.90) scale(1.089,1)">o</text><text transform="translate(343.66,1130.90) scale(1.132,1)">n</text><text transform="translate(353.55,1130.90) scale(1.411,1)">t</text><text transform="translate(359.70,1130.90) scale(1.132,1)">h</text><text transform="translate(369.59,1130.90) scale(1.037,1)">s</text><text transform="translate(378.53,1130.90) scale(1.050,1)">)</text></g>
<g font-size="15.7"><text transform="translate(21.50,1015.02) rotate(-90) scale(1.022,1)">K</text><text transform="translate(21.50,1004.32) rotate(-90) scale(1.073,1)">a</text><text transform="translate(21.50,994.94) rotate(-90) scale(1.113,1)">p</text><text transform="translate(21.50,984.92) rotate(-90) scale(1.050,1)">l</text><text transform="translate(21.50,980.95) rotate(-90) scale(1.073,1)">a</text><text transform="translate(21.50,971.58) rotate(-90) scale(1.130,1)">n</text><text transform="translate(21.50,961.71) rotate(-90) scale(1.286,1)">-</text><text transform="translate(21.50,954.99) rotate(-90) scale(1.005,1)">M</text><text transform="translate(21.50,941.84) rotate(-90) scale(1.063,1)">e</text><text transform="translate(21.50,932.25) rotate(-90) scale(1.050,1)">i</text><text transform="translate(21.50,928.27) rotate(-90) scale(1.063,1)">e</text><text transform="translate(21.50,918.99) rotate(-90) scale(1.273,1)">r</text><text transform="translate(21.50,906.86) rotate(-90) scale(1.063,1)">e</text><text transform="translate(21.50,897.57) rotate(-90) scale(1.035,1)">s</text><text transform="translate(21.50,889.45) rotate(-90) scale(1.409,1)">t</text><text transform="translate(21.50,883.00) rotate(-90) scale(1.050,1)">i</text><text transform="translate(21.50,879.03) rotate(-90) scale(1.160,1)">m</text><text transform="translate(21.50,863.86) rotate(-90) scale(1.073,1)">a</text><text transform="translate(21.50,854.48) rotate(-90) scale(1.409,1)">t</text><text transform="translate(21.50,848.34) rotate(-90) scale(1.063,1)">e</text></g>
<text transform="translate(-2.22,783.60) scale(0.745,1)" font-size="37.5" fill="#000">C</text>
<path d="M357.1,800.5 H398" stroke="#4BACC6" stroke-width="2"/>
<path d="M357.1,826.8 H398" stroke="#8064A2" stroke-width="2"/>
<path d="M381,852.8 V858.0" stroke="#7a7a7a" stroke-width="1.9"/>
<g font-size="15.7"><path d="M407.40,794.20H411.64M409.52,793.60V804.70M407.40,804.10H411.64" stroke="#1e1e1e" stroke-width="1.25" fill="none"/><text transform="translate(412.74,804.70) scale(1.015,1)">s</text><text transform="translate(420.70,804.70) scale(1.052,1)">a</text><text transform="translate(429.89,804.70) scale(1.261,1)">-</text><text transform="translate(436.48,804.70) scale(0.880,1)">P</text><text transform="translate(445.70,804.70) scale(1.091,1)">d</text><text transform="translate(460.76,804.70) scale(1.450,1)">≥</text><text transform="translate(473.41,804.70) scale(1.113,1)">6</text><text transform="translate(483.13,804.70) scale(1.113,1)">0</text><text transform="translate(498.22,804.70) scale(1.137,1)">m</text><text transform="translate(513.09,804.70) scale(0.975,1)">L</text><text transform="translate(522.36,804.70) scale(1.450,1)">/</text><text transform="translate(529.44,804.70) scale(1.137,1)">m</text><text transform="translate(544.58,804.70) scale(1.050,1)">i</text><text transform="translate(548.51,804.70) scale(1.108,1)">n</text><text transform="translate(558.94,804.70) scale(1.450,1)">/</text><text transform="translate(566.29,804.70) scale(1.050,1)">1</text><text transform="translate(576.23,804.70) scale(1.050,1)">.</text><text transform="translate(581.30,804.70) scale(1.113,1)">7</text><text transform="translate(591.02,804.70) scale(1.113,1)">3</text><text transform="translate(600.74,804.70) scale(1.137,1)">m</text><text transform="translate(616.27,800.40) scale(0.950,1)" font-size="11.62">2</text><text transform="translate(629.17,804.70) scale(1.050,1)">(</text><text transform="translate(635.39,804.70) scale(1.108,1)">n</text><text transform="translate(645.06,804.70) scale(1.397,1)">=</text><text transform="translate(657.87,804.70) scale(1.113,1)">8</text><text transform="translate(667.59,804.70) scale(1.113,1)">7</text><text transform="translate(678.03,804.70) scale(1.050,1)">)</text></g>
<g font-size="15.7"><text transform="translate(405.85,831.40) scale(0.891,1)">P</text><text transform="translate(415.18,831.40) scale(1.104,1)">d</text><text transform="translate(430.49,831.40) scale(1.450,1)">≥</text><text transform="translate(443.22,831.40) scale(1.126,1)">6</text><text transform="translate(453.06,831.40) scale(1.126,1)">0</text><text transform="translate(468.33,831.40) scale(1.151,1)">m</text><text transform="translate(483.38,831.40) scale(0.987,1)">L</text><text transform="translate(492.80,831.40) scale(1.450,1)">/</text><text transform="translate(499.93,831.40) scale(1.151,1)">m</text><text transform="translate(515.27,831.40) scale(1.050,1)">i</text><text transform="translate(519.22,831.40) scale(1.121,1)">n</text><text transform="translate(529.82,831.40) scale(1.450,1)">/</text><text transform="translate(537.28,831.40) scale(1.050,1)">1</text><text transform="translate(547.30,831.40) scale(1.050,1)">.</text><text transform="translate(552.41,831.40) scale(1.126,1)">7</text><text transform="translate(562.24,831.40) scale(1.126,1)">3</text><text transform="translate(572.08,831.40) scale(1.151,1)">m</text><text transform="translate(587.83,827.10) scale(0.950,1)" font-size="11.62">2</text><text transform="translate(600.88,831.40) scale(1.050,1)">(</text><text transform="translate(607.14,831.40) scale(1.121,1)">n</text><text transform="translate(616.93,831.40) scale(1.414,1)">=</text><text transform="translate(629.89,831.40) scale(1.126,1)">9</text><text transform="translate(639.73,831.40) scale(1.126,1)">6</text><text transform="translate(650.33,831.40) scale(1.050,1)">)</text></g>
<g font-size="15.7"><text transform="translate(406.23,860.80) scale(0.960,1)">C</text><text transform="translate(417.12,860.80) scale(1.060,1)">e</text><text transform="translate(426.38,860.80) scale(1.127,1)">n</text><text transform="translate(436.22,860.80) scale(1.032,1)">s</text><text transform="translate(444.32,860.80) scale(1.084,1)">o</text><text transform="translate(453.79,860.80) scale(1.269,1)">r</text></g>
<g font-size="17.6"><text transform="translate(83.15,1056.00) scale(1.005,1)">M</text><text transform="translate(97.89,1056.00) scale(1.063,1)">e</text><text transform="translate(108.29,1056.00) scale(1.113,1)">d</text><text transform="translate(119.53,1056.00) scale(1.050,1)">i</text><text transform="translate(123.98,1056.00) scale(1.073,1)">a</text><text transform="translate(134.49,1056.00) scale(1.130,1)">n</text><text transform="translate(151.69,1056.00) scale(0.898,1)">P</text><text transform="translate(162.23,1056.00) scale(0.935,1)">F</text><text transform="translate(172.29,1056.00) scale(1.020,1)">S</text><text transform="translate(185.49,1056.00) scale(1.050,1)">:</text><path d="M199.30,1044.19H204.05M201.68,1043.59V1056.00M199.30,1055.40H204.05" stroke="#1e1e1e" stroke-width="1.25" fill="none"/><text transform="translate(205.35,1056.00) scale(1.035,1)">s</text><text transform="translate(214.46,1056.00) scale(1.073,1)">a</text><text transform="translate(224.97,1056.00) scale(1.286,1)">-</text><text transform="translate(232.50,1056.00) scale(0.898,1)">P</text><text transform="translate(243.04,1056.00) scale(1.113,1)">d</text><text transform="translate(260.50,1056.00) scale(1.050,1)">1</text><text transform="translate(271.19,1056.00) scale(1.135,1)">2</text><text transform="translate(282.92,1056.00) scale(1.050,1)">.</text><text transform="translate(288.66,1056.00) scale(1.135,1)">7</text><text transform="translate(305.92,1056.00) scale(1.160,1)">m</text><text transform="translate(322.92,1056.00) scale(1.087,1)">o</text><text transform="translate(333.57,1056.00) scale(1.130,1)">n</text><text transform="translate(344.63,1056.00) scale(1.409,1)">t</text><text transform="translate(351.52,1056.00) scale(1.130,1)">h</text><text transform="translate(362.58,1056.00) scale(1.035,1)">s</text><text transform="translate(372.30,1056.00) scale(1.050,1)">,</text><text transform="translate(384.19,1056.00) scale(0.898,1)">P</text><text transform="translate(394.73,1056.00) scale(1.113,1)">d</text><text transform="translate(411.77,1056.00) scale(1.135,1)">7</text><text transform="translate(423.49,1056.00) scale(1.050,1)">.</text><text transform="translate(429.24,1056.00) scale(1.135,1)">9</text><text transform="translate(446.50,1056.00) scale(1.160,1)">m</text><text transform="translate(463.50,1056.00) scale(1.087,1)">o</text><text transform="translate(474.14,1056.00) scale(1.130,1)">n</text><text transform="translate(485.20,1056.00) scale(1.409,1)">t</text><text transform="translate(492.09,1056.00) scale(1.130,1)">h</text><text transform="translate(503.15,1056.00) scale(1.035,1)">s</text></g>
<g font-size="17.6"><text transform="translate(83.10,1076.50) scale(1.041,1)">H</text><text transform="translate(96.33,1076.50) scale(0.967,1)">R</text><text transform="translate(114.81,1076.50) scale(1.143,1)">0</text><text transform="translate(126.63,1076.50) scale(1.050,1)">.</text><text transform="translate(132.40,1076.50) scale(1.143,1)">5</text><text transform="translate(143.59,1076.50) scale(1.143,1)">8</text><text transform="translate(161.88,1076.50) scale(1.050,1)">(</text><text transform="translate(168.96,1076.50) scale(1.143,1)">9</text><text transform="translate(180.14,1076.50) scale(1.143,1)">5</text><text transform="translate(191.33,1076.50) scale(1.222,1)">%</text><text transform="translate(216.64,1076.50) scale(0.969,1)">C</text><path d="M230.29,1064.69H235.04M232.66,1064.09V1076.50M230.29,1075.90H235.04" stroke="#1e1e1e" stroke-width="1.25" fill="none"/><text transform="translate(242.55,1076.50) scale(1.143,1)">0</text><text transform="translate(254.38,1076.50) scale(1.050,1)">.</text><text transform="translate(260.14,1076.50) scale(1.143,1)">3</text><text transform="translate(271.33,1076.50) scale(1.143,1)">8</text><text transform="translate(282.52,1076.50) scale(1.143,1)">–</text><text transform="translate(293.71,1076.50) scale(1.143,1)">0</text><text transform="translate(305.53,1076.50) scale(1.050,1)">.</text><text transform="translate(311.30,1076.50) scale(1.143,1)">8</text><text transform="translate(322.49,1076.50) scale(1.143,1)">8</text><text transform="translate(334.59,1076.50) scale(1.050,1)">)</text></g>
<path d="M70,798.1 H77.9 V800.8 H98.9 V812 H99.5 V815.6 H108.3 V820.6 H108.9 V823 H113 V829.4 H119.4 V832.3 H127 V835.2 H128.1 V842.2 H129.3 V849.2 H139.8 V851.4 H148.2 V854.6 H154.6 V861.4 H155.2 V868.8 H157.5 V871.7 H162.8 V875 H165.1 V878.1 H169.8 V881.6 H192.6 V884.8 H199.6 V888 H204.8 V891.8 H211.8 V895 H214.2 V901.5 H239 V905 H241.5 V908.5 H244.5 V912.6 H247.1 V916.4 H282.6 V920.2 H294.6 V923.7 H295.4 V927 H305.5 V930.2 H307.3 V937.2 H309 V940.9 H314.9 V944.8 H321.3 V948.9 H329.5 V952.6 H359.2 V956.8 H366.5 V961 H374.9 V965.2 H376.7 V970.8 H381.9 V976.3 H385.4 V981.3 H406.7 V987.3 H436.3 V994.6 H449.4 V1003.4 H548.5" fill="none" stroke="#8064A2" stroke-width="2.2" stroke-linejoin="miter" stroke-linecap="butt"/>
<path d="M70,798.1 H80.8 V803.4 H98.6 V805.2 H121.7 V807.8 H125.2 V810.7 H126.4 V814.5 H144.1 V818.4 H144.7 V822 H156.1 V825.5 H161.4 V829.3 H162.8 V832.8 H164.3 V836.6 H177.6 V839.8 H183 V843.3 H186.1 V847.1 H187.3 V851.1 H190.5 V854.6 H196.9 V857.9 H201 V861.4 H205.4 V864.9 H207.5 V872.3 H213.5 V876 H239.8 V879.6 H247.1 V884 H248 V887.8 H296.9 V891 H302.2 V895.1 H322 V902.7 H341.9 V906.7 H411 V913.3 H421 V936.8 H457.6 V948.2 H533.6 V971.1 H560.8" fill="none" stroke="#4BACC6" stroke-width="2.2" stroke-linejoin="miter" stroke-linecap="butt"/>
<path d="M98.9,798.0V803.6 M101.0,812.8V818.4 M109.1,820.2V825.8 M113.0,826.6V832.2 M125.8,829.5V835.1 M167.8,875.3V880.9 M193.5,882.0V887.6 M211.5,889.0V894.6 M214.7,898.7V904.3 M253.0,913.6V919.2 M321.3,946.1V951.7 M325.6,946.1V951.7 M326.8,946.1V951.7 M327.9,946.1V951.7 M349.3,949.8V955.4 M363.7,954.0V959.6 M367.2,958.2V963.8 M371.5,958.2V963.8 M373.0,958.2V963.8 M377.3,968.0V973.6 M394.3,978.5V984.1 M395.3,978.5V984.1 M420.8,984.5V990.1 M421.8,984.5V990.1 M426.3,984.5V990.1 M444.7,991.8V997.4 M447.4,991.8V997.4 M450.4,1000.6V1006.2 M463.7,1000.6V1006.2 M491.3,1000.6V1006.2 M495.8,1000.6V1006.2 M499.9,1000.6V1006.2 M510.7,1000.6V1006.2 M531.8,1000.6V1006.2 M533.2,1000.6V1006.2 M548.5,1000.6V1006.2" stroke="#222" stroke-width="1.15"/>
<path d="M103.0,802.4V808.0 M118.2,802.4V808.0 M127.6,811.7V817.3 M161.6,830.0V835.6 M225.8,873.2V878.8 M239.0,873.2V878.8 M307.8,892.3V897.9 M326.7,899.9V905.5 M327.9,899.9V905.5 M343.4,903.9V909.5 M347.7,903.9V909.5 M350.1,903.9V909.5 M352.4,903.9V909.5 M363.7,903.9V909.5 M366.1,903.9V909.5 M372.8,903.9V909.5 M377.7,903.9V909.5 M381.9,903.9V909.5 M388.9,903.9V909.5 M399.1,903.9V909.5 M405.7,903.9V909.5 M409.6,903.9V909.5 M416.6,910.5V916.1 M420.6,925.2V930.8 M437.8,934.0V939.6 M440.2,934.0V939.6 M447.8,934.0V939.6 M451.5,934.0V939.6 M458.2,945.4V951.0 M486.6,945.4V951.0 M500.5,945.4V951.0 M519.9,945.4V951.0 M521.4,945.4V951.0 M535.3,968.3V973.9 M552.6,968.3V973.9 M554.1,968.3V973.9" stroke="#222" stroke-width="1.15"/>
</svg>
</body></html>
